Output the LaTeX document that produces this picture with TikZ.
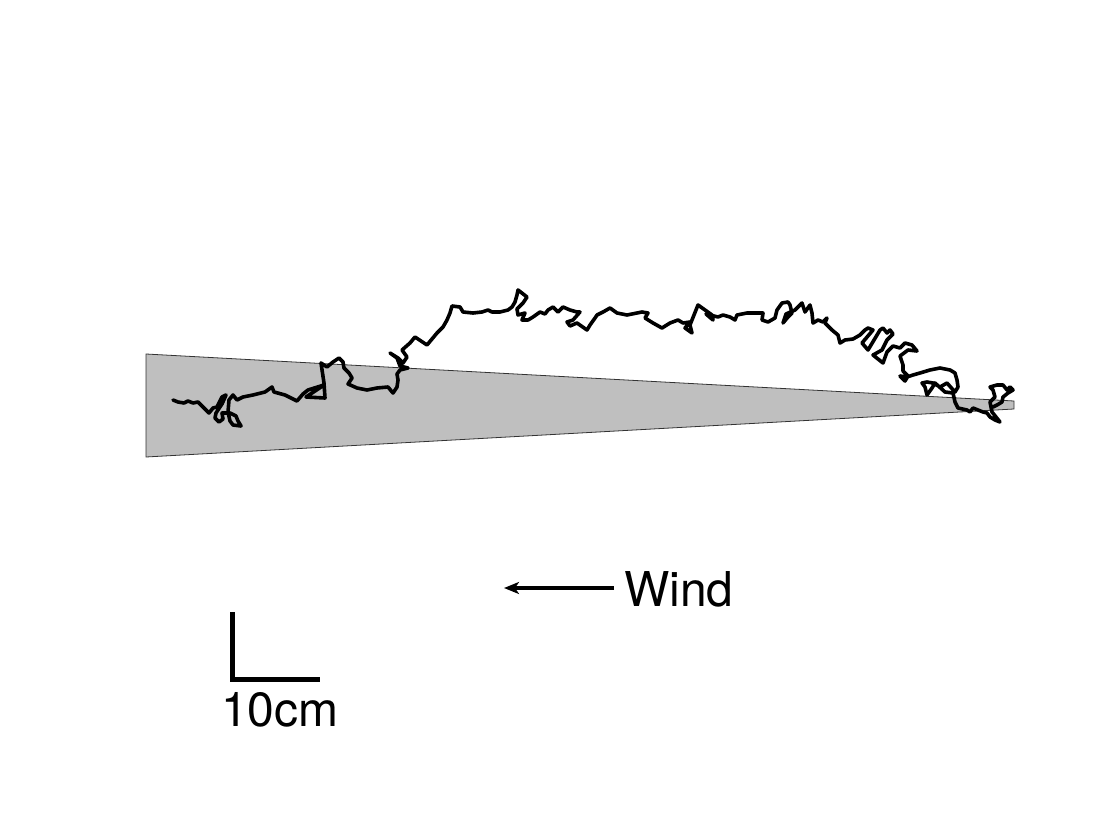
\documentclass[tikz,border=0pt]{standalone}
\usepackage{fontspec}
\setmainfont{TeX Gyre Heros}
\usetikzlibrary{arrows.meta}
\tikzset{
  wedgebox/.style={fill=black!25, draw=black!80, line width=0.8pt},
  walkpath/.style={draw=black, line width=3.6pt, line join=round, line cap=round},
  windarrow/.style={draw=black, line width=3.8pt, -{Stealth[length=15pt,width=12pt,inset=4pt]}},
  scalebar/.style={draw=black, line width=5pt},
  bigtext/.style={inner sep=0pt, font=\fontsize{48}{48}\selectfont}
}
\begin{document}
\begin{tikzpicture}[x=1pt,y=-1pt]
\useasboundingbox (0,0) rectangle (1120,840);
% wedge
\coordinate (wa) at (146,354);
\coordinate (wb) at (1014,401);
\coordinate (wc) at (1014,409);
\coordinate (wd) at (146,457);
\path[wedgebox] (wa) -- (wb) -- (wc) -- (wd) -- cycle;
% random walk
\draw[walkpath] plot coordinates {
(173,400) (178,402) (184,403) (188,401) (193,403) (198,402) (201,405) (206,410) (209,413) (213,408) (217,407) (219,403) (222,397) (226,395) (222,404) (216,413) (215,418) (219,422) (223,419) (222,413) (230,413) (236,416) (238,421) (241,426) (233,425) (230,421) (228,412) (229,400) (233,395) (237,400) (243,397) (253,395) (265,392) (272,387) (274,392) (285,395) (297,401) (303,394) (308,390) (324,385) (306,397) (325,398) (324,383) (321,363) (327,367) (333,362) (339,358) (343,362) (344,368) (349,373) (352,378) (348,384) (357,388) (367,390) (377,388) (388,387) (393,393) (397,387) (398,380) (397,374) (400,370) (408,368) (400,366) (397,358) (390,353) (398,358) (403,363) (407,357) (402,350) (410,343) (415,337) (427,345) (437,333) (443,327) (447,320) (450,313) (452,306) (460,307) (463,312) (473,313) (482,312) (488,310) (492,312) (500,312) (508,310) (512,307) (515,302) (517,295) (518,290) (527,297) (523,303) (517,309) (518,315) (525,313) (522,320) (528,320) (533,317) (540,312) (545,314) (548,310) (553,307) (558,312) (563,307) (570,310) (577,312) (580,312) (573,320) (567,322) (570,326) (577,323) (587,330) (590,325) (595,318) (597,315) (603,312) (610,308) (617,313) (627,315) (637,313) (642,312) (648,313) (645,318) (653,323) (662,328) (670,323) (678,320) (683,323) (690,322) (685,328) (692,333) (690,325) (698,305) (705,310) (712,315) (713,320) (706,314) (718,317) (723,315) (730,317) (735,320) (737,315) (747,313) (757,313) (763,313) (762,320) (768,322) (775,318) (777,310) (782,303) (788,302) (790,305) (792,313) (788,317) (783,323) (786,314) (795,310) (802,303) (805,312) (810,305) (812,313) (813,323) (818,320) (823,322) (827,318) (825,323) (832,330) (838,335) (840,343) (845,340) (853,339) (860,335) (865,330) (868,328) (873,330) (862,343) (868,350) (880,330) (883,328) (887,333) (890,330) (893,334) (887,340) (882,350) (873,355) (883,363) (887,352) (893,346) (900,348) (905,343) (912,345) (917,351) (908,350) (900,356) (903,365) (903,371) (908,376) (905,381) (900,376) (907,377) (913,375) (920,373) (930,370) (940,368) (950,370) (955,373) (957,380) (958,387) (955,392) (947,383) (940,387) (933,383) (927,382) (922,383) (925,387) (927,395) (932,388) (935,383) (945,392) (953,393) (955,402) (958,408) (967,410) (970,412) (973,408) (978,410) (983,412) (987,413) (990,417) (995,420) (1000,422) (992,412) (990,402) (995,397) (993,390) (990,387) (997,385) (1003,385) (1007,390) (1010,387) (1013,390) (1008,393) (1003,397) (1002,402) (997,405) (993,407)
};
% wind arrow
\coordinate (windtail) at (614,588);
\coordinate (windhead) at (504,588);
\draw[windarrow] (windtail) -- (windhead);
\node[bigtext, anchor=base west] (wind) at (624,606) {Wind};
% scale bar
\coordinate (sbtop) at (232,612);
\coordinate (sbcorner) at (232,679);
\coordinate (sbright) at (320,679);
\draw[scalebar] (sbtop) -- (sbcorner) -- (sbright);
\node[bigtext, anchor=base west] (scalelabel) at (221,726) {10cm};
\end{tikzpicture}
\end{document}
